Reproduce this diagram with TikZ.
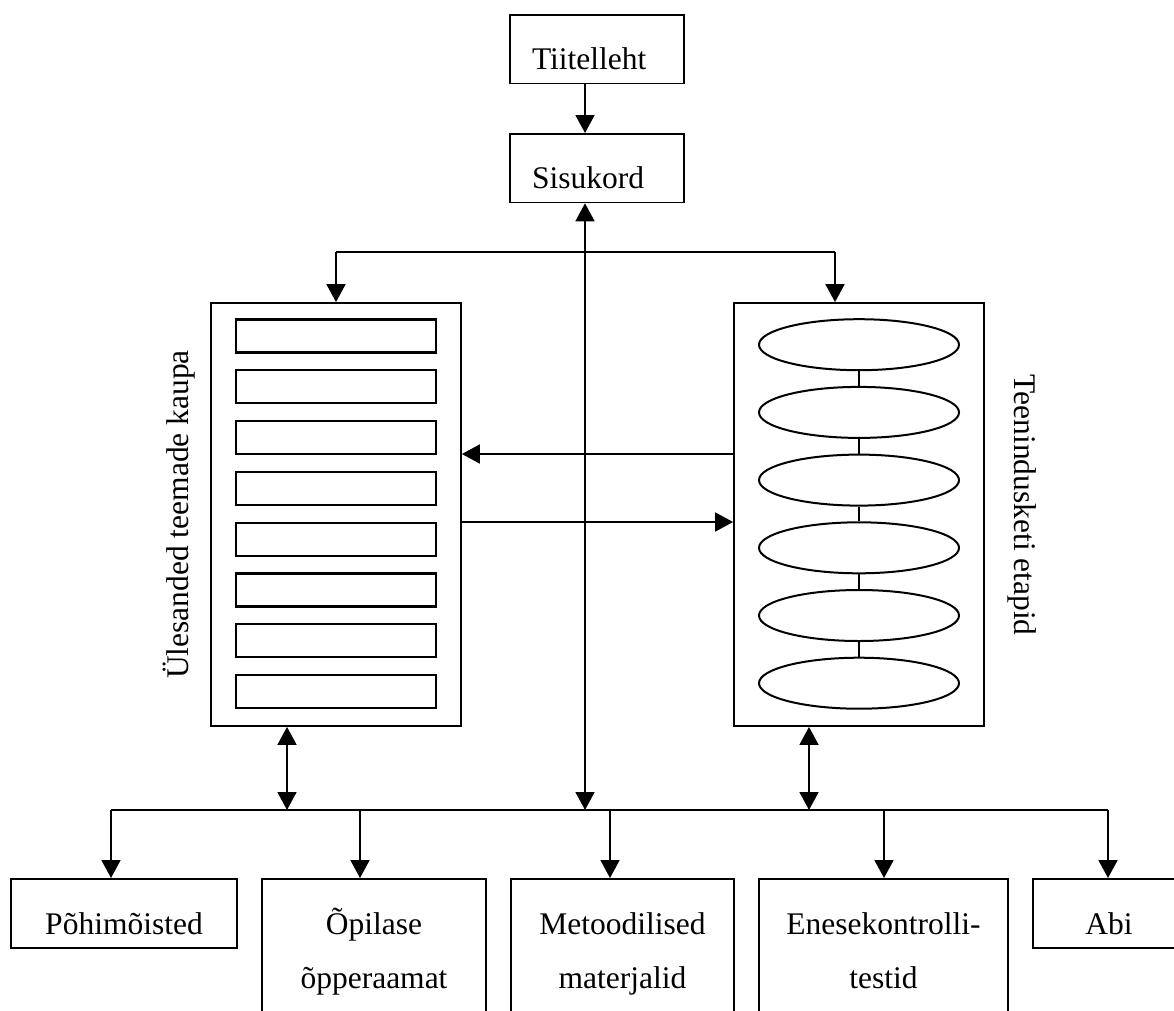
\documentclass[tikz,border=0pt]{standalone}
\usepackage{fontspec}
\setmainfont{Liberation Serif}
\usetikzlibrary{arrows.meta,shapes.geometric,calc}

\begin{document}
\begin{tikzpicture}[x=1pt,y=-1pt,
  line width=1.8pt,
  every node/.style={font=\fontsize{31.5pt}{54pt}\selectfont},
  arr/.style={-{Triangle[length=18pt,width=19pt]}},
  arrtwo/.style={{Triangle[length=18pt,width=19pt]}-{Triangle[length=18pt,width=19pt]}},
  topbox/.style={draw, line width=1.8pt, inner xsep=22pt, inner ysep=0pt,
    text width=130pt, align=left, text height=55pt, text depth=13.5pt},
  lowbox/.style={draw, line width=1.8pt, inner xsep=0pt, inner ysep=0pt,
    align=center, text height=56pt, text depth=13pt},
  tallbox/.style={draw, line width=1.8pt, inner xsep=0pt, inner ysep=0pt,
    align=center, text height=110pt, text depth=100pt},
  frame/.style={draw, line width=1.8pt, minimum width=250pt, minimum height=423pt, inner sep=0pt},
  slot/.style={draw, line width=2.2pt, minimum width=200pt, minimum height=33pt, inner sep=0pt},
  stage/.style={draw, ellipse, line width=2pt, minimum width=200pt, minimum height=51pt, inner sep=0pt}
]
\useasboundingbox (0,0) rectangle (1174,1010);
\clip (0,0) rectangle (1174,1010);

% title and contents
\node[topbox, anchor=north] (tit) at (597,14) {Tiitelleht};
\node[topbox, anchor=north] (sis) at (597,133) {Sisukord};

% the two central panels
\node[frame] (lbox) at (336,514.5) {};
\node[frame] (rbox) at (859,514.5) {};

\foreach \i in {0,...,7}
  \node[slot] (s\i) at (336,{336+50.8*\i}) {};

\foreach \i in {0,...,5}
  \node[stage] (e\i) at (859,{344.7+67.7*\i}) {};
\foreach \i [evaluate=\i as \j using int(\i+1)] in {0,...,4}
  \draw[line width=1.6pt] (e\i.south) -- (e\j.north);

% panel captions
\node[rotate=90] (ltxt) at (179,514.5) {Ülesanded teemade kaupa};
\node[rotate=-90] (rtxt) at (1022,505) {Teenindusketi etapid};

% bottom row
\node[lowbox, minimum width=226pt, anchor=north] (pohi) at (124,878) {Põhimõisted};
\node[tallbox, minimum width=224pt, anchor=north] (opil) at (374,878) {Õpilase\\õpperaamat};
\node[tallbox, minimum width=223pt, anchor=north] (meto) at (622.5,878) {Metoodilised\\materjalid};
\node[tallbox, minimum width=249pt, anchor=north] (enes) at (883.5,878) {Enesekontrolli-\\testid};
\node[lowbox, minimum width=152pt, anchor=north] (abi) at (1109,878) {Abi};

% guide coordinates for the connectors
\coordinate (cx) at (585,500);
\coordinate (tbar) at (500,252);
\coordinate (rin) at (835,0);
\coordinate (rl) at (0,454);
\coordinate (lr) at (0,522);
\coordinate (dl) at (287,0);
\coordinate (dr) at (809,0);
\coordinate (bus) at (0,810);
\coordinate (a1) at (111,0);
\coordinate (a2) at (360,0);
\coordinate (a3) at (610,0);
\coordinate (a4) at (884,0);
\coordinate (a5) at (1108,0);

% connectors
\draw[arr] (tit.south -| cx) -- (sis.north -| cx);
\draw[arrtwo] (sis.south -| cx) -- (bus -| cx);
\draw (lbox.north |- tbar) -- (rin |- tbar);
\draw[arr] (lbox.north |- tbar) -- (lbox.north);
\draw[arr] (rin |- tbar) -- (rbox.north -| rin);
\draw[arr] (rbox.west |- rl) -- (lbox.east |- rl);
\draw[arr] (lbox.east |- lr) -- (rbox.west |- lr);
\draw[arrtwo] (lbox.south -| dl) -- (bus -| dl);
\draw[arrtwo] (rbox.south -| dr) -- (bus -| dr);
\draw (bus -| a1) -- (bus -| a5);
\draw[arr] (bus -| a1) -- (pohi.north -| a1);
\draw[arr] (bus -| a2) -- (opil.north -| a2);
\draw[arr] (bus -| a3) -- (meto.north -| a3);
\draw[arr] (bus -| a4) -- (enes.north -| a4);
\draw[arr] (bus -| a5) -- (abi.north -| a5);
\end{tikzpicture}
\end{document}
